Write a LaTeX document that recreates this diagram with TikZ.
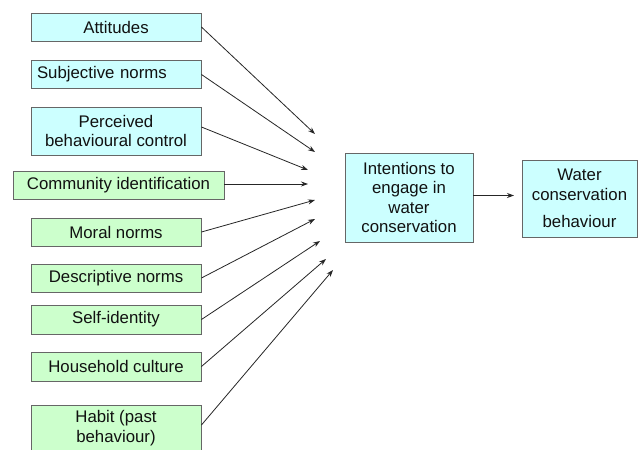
\documentclass[tikz,border=0pt]{standalone}
\usepackage{fontspec}
\setmainfont{Liberation Sans}
\usetikzlibrary{arrows.meta}
\definecolor{boxcyan}{HTML}{CCFFFF}
\definecolor{boxgreen}{HTML}{CCFFCC}
\definecolor{edgegray}{HTML}{666666}
\definecolor{txt}{HTML}{111111}
\tikzset{
  base/.style={draw=edgegray, line width=0.9pt, rectangle, inner sep=0pt, align=center,
    text=txt, font=\fontsize{16.8}{19.5}\selectfont},
  cbox/.style={base, fill=boxcyan},
  gbox/.style={base, fill=boxgreen},
  arr/.style={draw=black!85, line width=0.8pt, -{Stealth[length=7pt,width=5pt]}},
}
\begin{document}
\begin{tikzpicture}[x=1pt,y=-1pt]
\path[use as bounding box, fill=white] (0,0) rectangle (638,450);
% left column
\node[cbox, minimum width=170pt, minimum height=28pt] (att) at (116,27) {Attitudes};
\node[cbox, minimum width=170pt, minimum height=28pt, text width=158pt, align=left] (sub) at (116,74.5) {Subjective norms};
\node[cbox, minimum width=170pt, minimum height=48pt] (pbc) at (116,131) {Perceived\\behavioural control};
\node[gbox, minimum width=211pt, minimum height=28pt] (com) at (118.5,185) {Community identification};
\node[gbox, minimum width=170pt, minimum height=28pt] (mor) at (116,232) {Moral norms};
\node[gbox, minimum width=170pt, minimum height=28pt] (des) at (116,278) {Descriptive norms};
\node[gbox, minimum width=170pt, minimum height=29pt] (sel) at (116,319.5) {Self-identity};
\node[gbox, minimum width=170pt, minimum height=29pt] (hou) at (116,366.5) {Household culture};
\node[gbox, minimum width=170pt, minimum height=46pt] (hab) at (116,428) {Habit (past\\behaviour)};
% right boxes
\node[cbox, minimum width=128pt, minimum height=89pt] (int) at (409,197.5) {Intentions to\\engage in\\water\\conservation};
\node[cbox, minimum width=115pt, minimum height=77pt] (wcb) at (579.5,198.5) {Water\\conservation\\[8pt]behaviour};
% arrow tips
\coordinate (t1) at (315,134);
\coordinate (t2) at (315,152);
\coordinate (t3) at (308,170);
\coordinate (t4) at (308,184);
\coordinate (t5) at (315,200);
\coordinate (t6) at (315,219);
\coordinate (t7) at (320,241);
\coordinate (t8) at (326,259);
\coordinate (t9) at (333,270);
\coordinate (t10) at (514,195.5);
% connectors
\draw[arr] (att.east) -- (t1);
\draw[arr] (sub.east) -- (t2);
\draw[arr] ([yshift=4pt]pbc.east) -- (t3);
\draw[arr] ([yshift=1pt]com.east) -- (t4);
\draw[arr] (mor.east) -- (t5);
\draw[arr] (des.east) -- (t6);
\draw[arr] (sel.east) -- (t7);
\draw[arr] (hou.east) -- (t8);
\draw[arr] ([yshift=3pt]hab.east) -- (t9);
\draw[arr] ([yshift=2pt]int.east) -- (t10);
\end{tikzpicture}
\end{document}
